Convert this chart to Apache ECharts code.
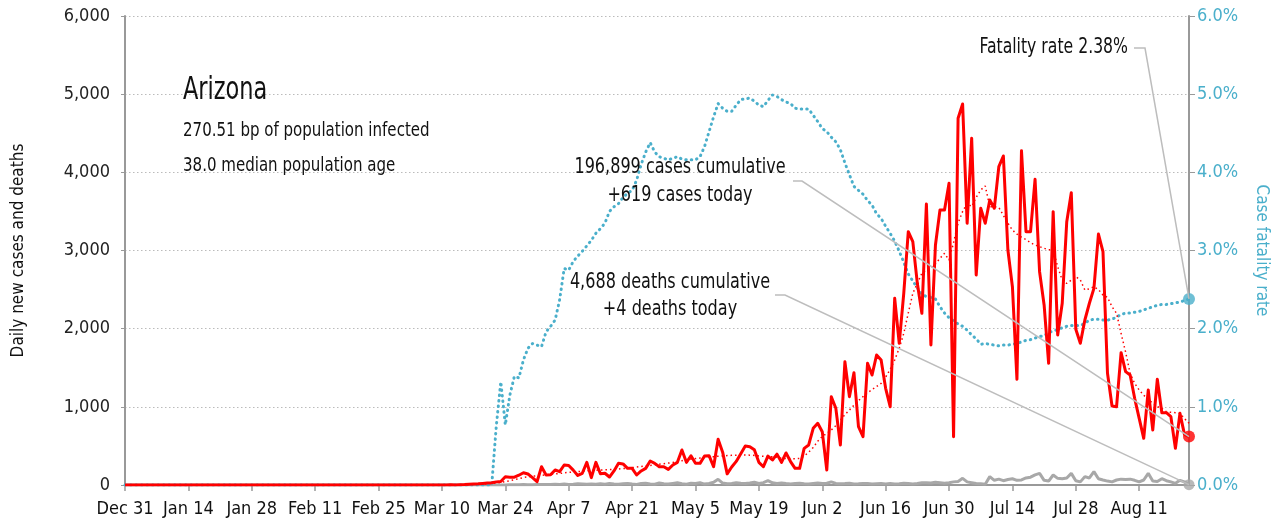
<!DOCTYPE html>
<html>
<head>
<meta charset="utf-8">
<script src="https://cdn.jsdelivr.net/npm/echarts@6/dist/echarts.min.js"></script>
<style>
  html, body { margin: 0; padding: 0; background: #fff; }
  #chart { width: 1278px; height: 524px; }
</style>
</head>
<body>
<div id="chart"></div>
<script>
// daily values, one per day from Dec 31 (day 0) to Aug 22 (day 235)
const cases = [
  0, 0, 0, 0, 0, 0, 0, 0, 0, 0,
  0, 0, 0, 0, 0, 0, 0, 0, 0, 0,
  0, 0, 0, 0, 0, 0, 0, 0, 0, 0,
  0, 0, 0, 0, 0, 0, 0, 0, 0, 0,
  0, 0, 0, 0, 0, 0, 0, 0, 0, 0,
  0, 0, 0, 0, 0, 0, 0, 0, 0, 0,
  0, 0, 0, 0, 0, 0, 0, 0, 0, 0,
  1, 0, 3, 0, 4, 5, 9, 12, 15, 20,
  25, 30, 40, 45, 105, 100, 100, 125, 157, 140,
  95, 42, 234, 128, 130, 192, 170, 256, 250, 190,
  122, 150, 290, 94, 290, 143, 150, 102, 180, 277,
  270, 213, 213, 128, 180, 213, 307, 277, 234, 234,
  200, 256, 290, 448, 290, 374, 277, 277, 370, 375,
  234, 584, 420, 143, 230, 302, 400, 499, 490, 450,
  290, 234, 370, 320, 395, 290, 410, 300, 213, 213,
  469, 512, 725, 789, 682, 192, 1130, 981, 512, 1577,
  1130, 1437, 746, 618, 1557, 1407, 1663, 1599, 1237, 1002,
  2388, 1813, 2452, 3241, 3113, 2580, 2196, 3595, 1791, 3070,
  3518, 3518, 3860, 618, 4691, 4874, 3348, 4435, 2686, 3540,
  3348, 3646, 3540, 4072, 4209, 3006, 2537, 1352, 4277, 3241,
  3241, 3911, 2729, 2303, 1557, 3497, 1919, 2325, 3369, 3740,
  1992, 1813, 2111, 2325, 2516, 3211, 2985, 1429, 1011, 1002,
  1693, 1450, 1407, 1109, 853, 597, 1215, 704, 1352, 925,
  925, 874, 469, 917, 648, 619
]

const casesAvg = [
  0, 0, 0, 0, 0, 0, 0, 0, 0, 0,
  0, 0, 0, 0, 0, 0, 0, 0, 0, 0,
  0, 0, 0, 0, 0, 0, 0, 0, 0, 0,
  0, 0, 0, 0, 0, 0, 0, 0, 0, 0,
  0, 0, 0, 0, 0, 0, 0, 0, 0, 0,
  0, 0, 0, 0, 0, 0, 0, 0, 0, 0,
  0, 0, 0, 0, 0, 0, 0, 0, 0, 0,
  0, 0, 1, 1, 2, 2, 4, 6, 8, 12,
  16, 20, 25, 32, 45, 55, 68, 80, 95, 105,
  112, 118, 125, 130, 136, 142, 148, 155, 162, 166,
  171, 175, 180, 185, 190, 192, 195, 197, 200, 205,
  210, 215, 222, 230, 238, 243, 250, 258, 265, 272,
  280, 288, 298, 310, 320, 330, 338, 345, 352, 358,
  362, 368, 372, 376, 380, 382, 384, 384, 382, 378,
  372, 368, 365, 362, 355, 341, 340, 338, 335, 341,
  370, 420, 480, 560, 620, 661, 704, 760, 830, 900,
  959, 1020, 1080, 1130, 1180, 1220, 1260, 1301, 1380, 1480,
  1599, 1750, 1940, 2200, 2452, 2580, 2708, 2750, 2780, 2830,
  2900, 2964, 2878, 3100, 3350, 3500, 3603, 3561, 3680, 3774,
  3825, 3560, 3560, 3550, 3450, 3350, 3262, 3210, 3170, 3140,
  3100, 3070, 3050, 3028, 3010, 3006, 2793, 2620, 2580, 2620,
  2665, 2623, 2495, 2510, 2537, 2500, 2431, 2400, 2280, 2196,
  1940, 1700, 1429, 1300, 1215, 1150, 1087, 1050, 1002, 980,
  938, 930, 925, 917, 850, 789
]

const deaths = [
  0, 0, 0, 0, 0, 0, 0, 0, 0, 0,
  0, 0, 0, 0, 0, 0, 0, 0, 0, 0,
  0, 0, 0, 0, 0, 0, 0, 0, 0, 0,
  0, 0, 0, 0, 0, 0, 0, 0, 0, 0,
  0, 0, 0, 0, 0, 0, 0, 0, 0, 0,
  0, 0, 0, 0, 0, 0, 0, 0, 0, 0,
  0, 0, 0, 0, 0, 0, 0, 0, 0, 0,
  0, 0, 0, 0, 0, 0, 0, 0, 0, 0,
  0, 0, 0, 0, 1, 2, 3, 2, 5, 4,
  3, 5, 6, 8, 6, 10, 8, 12, 7, 10,
  15, 12, 9, 14, 11, 16, 10, 18, 13, 9,
  15, 20, 12, 8, 18, 22, 14, 10, 25, 16,
  12, 20, 28, 15, 10, 22, 18, 30, 12, 20,
  35, 73, 25, 15, 20, 30, 22, 18, 25, 35,
  20, 30, 55, 28, 20, 25, 18, 12, 20, 22,
  15, 12, 20, 25, 18, 22, 40, 20, 15, 18,
  22, 12, 15, 20, 18, 12, 16, 20, 14, 18,
  12, 16, 22, 18, 14, 20, 30, 28, 25, 35,
  30, 22, 28, 40, 45, 85, 40, 30, 20, 15,
  10, 107, 60, 75, 55, 70, 80, 60, 65, 90,
  100, 130, 149, 60, 50, 128, 85, 80, 90, 149,
  55, 40, 107, 90, 171, 80, 64, 50, 40, 64,
  75, 70, 75, 60, 40, 64, 149, 50, 45, 80,
  55, 40, 21, 60, 40, 4
]

// case fatality rate, percent
const fatalityRate = [
  0, 0, 0, 0, 0, 0, 0, 0, 0, 0,
  0, 0, 0, 0, 0, 0, 0, 0, 0, 0,
  0, 0, 0, 0, 0, 0, 0, 0, 0, 0,
  0, 0, 0, 0, 0, 0, 0, 0, 0, 0,
  0, 0, 0, 0, 0, 0, 0, 0, 0, 0,
  0, 0, 0, 0, 0, 0, 0, 0, 0, 0,
  0, 0, 0, 0, 0, 0, 0, 0, 0, 0,
  0, 0, 0, 0, 0, 0, 0, 0, 0, 0,
  0, 0, 0.75, 1.32, 0.77, 1.15, 1.39, 1.37, 1.60, 1.75,
  1.81, 1.79, 1.77, 1.96, 2.03, 2.11, 2.37, 2.77, 2.75, 2.86,
  2.93, 2.99, 3.06, 3.13, 3.22, 3.28, 3.35, 3.50, 3.56, 3.60,
  3.68, 3.73, 3.77, 3.90, 4.10, 4.26, 4.38, 4.26, 4.20, 4.18,
  4.16, 4.18, 4.20, 4.17, 4.16, 4.16, 4.16, 4.20, 4.33, 4.52,
  4.71, 4.88, 4.82, 4.78, 4.78, 4.86, 4.93, 4.94, 4.95, 4.91,
  4.86, 4.84, 4.92, 4.99, 4.97, 4.93, 4.90, 4.88, 4.82, 4.81,
  4.81, 4.81, 4.73, 4.65, 4.56, 4.52, 4.45, 4.39, 4.29, 4.12,
  3.97, 3.82, 3.77, 3.72, 3.64, 3.58, 3.47, 3.41, 3.31, 3.22,
  3.12, 2.99, 2.85, 2.70, 2.61, 2.52, 2.44, 2.41, 2.40, 2.38,
  2.28, 2.20, 2.14, 2.10, 2.06, 2.03, 1.98, 1.92, 1.87, 1.80,
  1.81, 1.80, 1.79, 1.78, 1.79, 1.79, 1.80, 1.81, 1.83, 1.85,
  1.86, 1.88, 1.90, 1.91, 1.95, 1.97, 1.99, 2.01, 2.03, 2.04,
  2.04, 2.04, 2.07, 2.11, 2.12, 2.12, 2.11, 2.11, 2.12, 2.15,
  2.18, 2.20, 2.20, 2.21, 2.22, 2.24, 2.26, 2.28, 2.30, 2.31,
  2.31, 2.32, 2.33, 2.34, 2.36, 2.38
]

const monthNames = ['Jan', 'Feb', 'Mar', 'Apr', 'May', 'Jun', 'Jul', 'Aug', 'Sep', 'Oct', 'Nov', 'Dec']
const startDate = Date.UTC(2019, 11, 31)
const dates = cases.map((_, i) => {
  const d = new Date(startDate + i * 86400000)
  return monthNames[d.getUTCMonth()] + ' ' + d.getUTCDate()
})

const stateName = 'Arizona'
const infoLines = ['270.51 bp of population infected', '38.0 median population age']
const casesNote = ['196,899 cases cumulative', '+619 cases today']
const deathsNote = ['4,688 deaths cumulative', '+4 deaths today']
const rateNote = 'Fatality rate 2.38%'

const FONT = '"Liberation Sans Narrow", "DejaVu Sans Condensed", "Roboto", sans-serif'
const RED = '#ff0000'
const CYAN = '#4aafcb'
const GRAY = '#a8a8a8'
const last = cases.length - 1

const chart = echarts.init(document.getElementById('chart'))

const option = {
  animation: false,
  textStyle: { fontFamily: FONT },
  grid: { left: 125, right: 88, top: 16, bottom: 39 },
  xAxis: {
    type: 'category',
    data: dates,
    boundaryGap: false,
    axisLine: { lineStyle: { color: '#999', width: 2 } },
    axisTick: { interval: 13, length: 6, lineStyle: { color: '#999', width: 1.5 } },
    axisLabel: { interval: 13, color: '#111', fontSize: 18, margin: 15, fontFamily: FONT },
    splitLine: { show: false }
  },
  yAxis: [
    {
      type: 'value', min: 0, max: 6000, interval: 1000, position: 'left',
      name: 'Daily new cases and deaths', nameLocation: 'middle', nameGap: 98,
      nameTextStyle: { color: '#111', fontSize: 17, fontFamily: FONT },
      axisLine: { show: true, lineStyle: { color: '#999', width: 2 } },
      axisTick: { show: true, length: 4, lineStyle: { color: '#999' } },
      axisLabel: { color: '#222', fontSize: 18, margin: 15, fontFamily: FONT,
        formatter: v => echarts.format.addCommas(v) },
      splitLine: { lineStyle: { color: '#bbb', type: [1.5, 2.5], width: 1 } }
    },
    {
      type: 'value', min: 0, max: 6, interval: 1, position: 'right',
      name: 'Case fatality rate', nameLocation: 'middle', nameGap: 64, nameRotate: -90,
      nameTextStyle: { color: CYAN, fontSize: 17, fontFamily: FONT },
      axisLine: { show: true, lineStyle: { color: '#999', width: 2 } },
      axisTick: { show: true, length: 6, lineStyle: { color: '#999' } },
      axisLabel: { color: CYAN, fontSize: 18, margin: 8, fontFamily: FONT,
        formatter: v => v.toFixed(1) + '%' },
      splitLine: { show: false }
    }
  ],
  series: [
    {
      name: 'deaths', type: 'line', data: deaths, showSymbol: false, z: 2,
      lineStyle: { color: GRAY, width: 3 }
    },
    {
      name: 'fatality rate', type: 'line', yAxisIndex: 1, data: fatalityRate, showSymbol: false, z: 3,
      lineStyle: { color: CYAN, width: 3, type: [0.5, 5], cap: 'round' }
    },
    {
      name: 'cases avg', type: 'line', data: casesAvg, showSymbol: false, z: 4,
      lineStyle: { color: RED, width: 1.5, type: [1.5, 3] }
    },
    {
      name: 'cases', type: 'line', data: cases, showSymbol: false, z: 5,
      lineStyle: { color: RED, width: 3, join: 'round' }
    },
    {
      type: 'scatter', data: [[last, deaths[last]]], symbolSize: 11, z: 6,
      itemStyle: { color: GRAY }
    },
    {
      type: 'scatter', yAxisIndex: 1, data: [[last, fatalityRate[last]]], symbolSize: 12, z: 6,
      itemStyle: { color: CYAN }
    },
    {
      type: 'scatter', data: [[last, cases[last]]], symbolSize: 12, z: 6,
      itemStyle: { color: RED }
    }
  ]
}

chart.setOption(option)

// leader lines end at the plotted last points
const pCase = chart.convertToPixel({ xAxisIndex: 0, yAxisIndex: 0 }, [last, cases[last]])
const pDeath = chart.convertToPixel({ xAxisIndex: 0, yAxisIndex: 0 }, [last, deaths[last]])
const pRate = chart.convertToPixel({ xAxisIndex: 0, yAxisIndex: 1 }, [last, fatalityRate[last]])

// condensed look: squeeze the free text horizontally around its anchor
const text = (x, y, str, size, squeeze, align) => ({
  type: 'text', x, y, z: 10, scaleX: squeeze,
  style: { text: str, fontSize: size, fontFamily: FONT, fill: '#111', align: align || 'left', verticalAlign: 'middle' }
})
const leader = pts => ({
  type: 'polyline', z: 9, shape: { points: pts },
  style: { stroke: '#bdbdbd', lineWidth: 1.5, fill: null }
})

chart.setOption({
  graphic: [
    text(183, 91, stateName, 32, 0.78),
    text(183, 131, infoLines[0], 19, 0.88),
    text(183, 166, infoLines[1], 19, 0.88),
    text(680, 168, casesNote[0], 21, 0.85, 'center'),
    text(680, 196, casesNote[1], 21, 0.85, 'center'),
    text(670, 283, deathsNote[0], 21, 0.85, 'center'),
    text(670, 310, deathsNote[1], 21, 0.85, 'center'),
    text(1128, 48, rateNote, 21, 0.83, 'right'),
    leader([[793, 181], [802, 181], pCase]),
    leader([[775, 295], [785, 295], pDeath]),
    leader([[1134, 48], [1145, 48], pRate])
  ]
})
</script>
</body>
</html>
